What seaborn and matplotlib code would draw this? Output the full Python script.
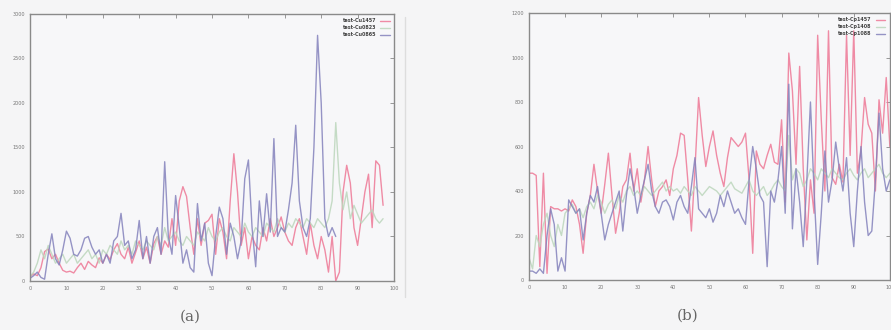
import matplotlib
matplotlib.use("Agg")
import matplotlib.pyplot as plt
import numpy as np
import pandas as pd
import seaborn as sns

# panel (a) values
a_labels = ["test-Cu1457", "test-Cu0823", "test-Cu0865"]
a_red = [50, 80, 60, 150, 330, 360, 250, 300, 200, 120, 100, 110, 90, 150, 200, 130, 220, 180, 150, 260,
         200, 300, 240, 350, 420, 300, 250, 380, 200, 320, 450, 250, 380, 200, 420, 500, 300, 450, 380, 700,
         400, 900, 1060, 950, 600, 300, 700, 400, 650, 680, 750, 300, 700, 550, 250, 900, 1430, 1000, 400, 600,
         250, 500, 400, 350, 600, 450, 700, 500, 600, 720, 550, 450, 400, 600, 700, 500, 300, 650, 400, 250,
         500, 350, 100, 500, 0, 100, 1000, 1300, 1100, 600, 400, 700, 1000, 1200, 600, 1350, 1300, 850]
a_green = [50, 100, 200, 350, 250, 400, 300, 200, 250, 300, 200, 250, 300, 200, 250, 300, 350, 250, 300, 200,
           350, 300, 400, 350, 300, 450, 350, 400, 300, 450, 400, 350, 450, 400, 350, 500, 400, 600, 450, 500,
           550, 450, 400, 500, 450, 400, 550, 500, 450, 600, 500, 450, 550, 600, 500, 450, 600, 550, 500, 650,
           550, 500, 600, 550, 500, 650, 600, 550, 700, 600, 550, 650, 600, 700, 650, 600, 700, 650, 600, 700,
           650, 600, 700, 900, 1780, 1100, 800, 1000, 700, 850, 750, 650, 700, 750, 800, 700, 650, 700]
a_blue = [30, 60, 100, 40, 20, 300, 530, 250, 180, 350, 560, 480, 300, 280, 350, 480, 500, 380, 300, 350,
          200, 300, 200, 450, 500, 760, 400, 450, 250, 350, 680, 250, 500, 200, 500, 600, 300, 1340, 500, 300,
          960, 600, 200, 350, 150, 100, 870, 450, 650, 200, 60, 500, 830, 700, 300, 650, 500, 250, 450, 1150,
          1360, 600, 160, 900, 500, 980, 550, 1600, 500, 600, 550, 800, 1100, 1750, 900, 600, 500, 700, 1500, 2760,
          2000, 700, 500, 600, 500]

# panel (b)
b_labels = ["test-Cp1457", "test-Cp1408", "test-Cp1088"]
b_red = [480, 480, 470, 60, 480, 30, 330, 320, 320, 310, 320, 310, 360, 330, 250, 120, 300, 380, 520, 400,
         300, 430, 570, 380, 210, 300, 420, 450, 570, 400, 500, 350, 450, 600, 450, 330, 400, 420, 450, 380,
         500, 560, 660, 650, 450, 220, 500, 820, 650, 510, 600, 670, 560, 480, 420, 550, 640, 620, 600, 620,
         660, 450, 120, 580, 520, 500, 560, 610, 530, 520, 720, 350, 1020, 850, 520, 960, 500, 180, 450, 300,
         1100, 720, 400, 1120, 460, 430, 520, 440, 1100, 560, 1120, 480, 580, 820, 700, 660, 400, 810, 660, 910, 600]
b_green = [100, 50, 200, 150, 250, 300, 200, 150, 250, 200, 300, 320, 340, 300, 320, 280, 330, 350, 320, 380,
           350, 300, 340, 360, 320, 380, 350, 400, 420, 380, 400, 380, 420, 400, 380, 400, 420, 440, 400, 420,
           400, 410, 390, 420, 400, 380, 420, 400, 380, 400, 420, 410, 400, 380, 400, 420, 440, 410, 400, 390,
           420, 450, 400, 380, 400, 420, 380, 400, 430, 450, 420, 400, 650, 450, 500, 480, 420, 450, 500, 480,
           450, 500, 480, 460, 500, 480, 460, 450, 480, 500, 470, 450, 480, 500, 460, 480, 500, 520, 480, 460, 480]
b_blue = [40, 40, 30, 50, 30, 200, 320, 250, 40, 100, 40, 360, 330, 300, 320, 180, 300, 380, 350, 420,
          300, 180, 250, 300, 350, 400, 220, 380, 500, 420, 300, 380, 450, 520, 400, 330, 300, 350, 360, 330,
          270, 350, 380, 330, 300, 420, 550, 320, 300, 280, 320, 260, 300, 380, 330, 400, 350, 300, 320, 280,
          250, 450, 600, 500, 380, 350, 60, 400, 350, 450, 600, 300, 880, 230, 500, 350, 150, 450, 800, 400,
          70, 300, 580, 350, 450, 620, 500, 400, 550, 300, 150, 400, 600, 350, 200, 220, 450, 750, 500, 400, 450]

colors = ["#ee7896", "#bcd6bc", "#8482bc"]


def long_form(labels, series):
    rows = []
    for lab, vals in zip(labels, series):
        for i, v in enumerate(vals):
            rows.append((i, v, lab))
    return pd.DataFrame(rows, columns=["x", "y", "series"])


sns.set_style("white")
plt.rcParams["font.family"] = ["DejaVu Sans"]

fig = plt.figure(figsize=(8.91, 3.30), dpi=100, facecolor="#f5f5f6")
ax1 = fig.add_axes([0.0337, 0.1485, 0.4085, 0.8091])
ax2 = fig.add_axes([0.5937, 0.1515, 0.4050, 0.8091])

panels = [
    (ax1, a_labels, [a_red, a_green, a_blue], 3000, 500, "(a)"),
    (ax2, b_labels, [b_red, b_green, b_blue], 1200, 200, "(b)"),
]

for ax, labels, series, ymax, ystep, cap in panels:
    df = long_form(labels, series)
    sns.lineplot(data=df, x="x", y="y", hue="series", palette=colors, ax=ax,
                 linewidth=1.0, alpha=0.85)
    ax.set_facecolor("#f7f7f9")
    ax.set_xlim(0, 100)
    ax.set_ylim(0, ymax)
    ax.set_xticks(np.arange(0, 101, 10))
    ax.set_yticks(np.arange(0, ymax + 1, ystep))
    ax.tick_params(direction="in", length=3, width=0.6, labelsize=3.5,
                   colors="#888888", labelcolor="#777777", top=True, right=True)
    ax.set_xlabel("")
    ax.set_ylabel("")
    for s in ax.spines.values():
        s.set_color("#8a8a8a")
        s.set_linewidth(1.0)
    leg = ax.legend(loc="upper right", fontsize=3.5, frameon=False, handlelength=2.0,
                    labelspacing=0.4, markerfirst=False)
    for t in leg.get_texts():
        t.set_color("#444444")
        t.set_fontweight("bold")
    ax.text(0.44, -0.135, cap, transform=ax.transAxes, ha="center", va="center",
            fontsize=11, color="#666666", family="DejaVu Serif")

fig.lines.append(plt.Line2D([405 / 891, 405 / 891], [0.1, 0.95], transform=fig.transFigure,
                            color="#dddddd", linewidth=1.0))

fig.savefig("out.png", dpi=100, facecolor=fig.get_facecolor())
